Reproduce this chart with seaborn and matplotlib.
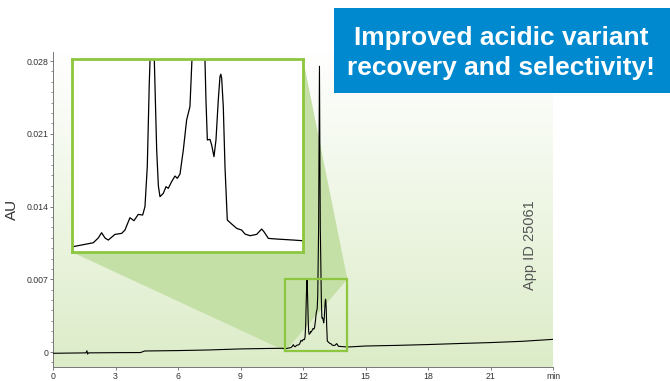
import matplotlib
matplotlib.use('Agg')
import matplotlib.pyplot as plt
import seaborn as sns
import numpy as np
import pandas as pd
from matplotlib.colors import LinearSegmentedColormap
from matplotlib.patches import Rectangle, Polygon
from matplotlib.ticker import FixedLocator, MultipleLocator

# retention time (min) and absorbance (AU)
rt_pre = [0.0, 0.8, 1.58, 1.63, 1.66, 1.70, 3.0, 4.2, 4.4, 6.0, 7.5, 9.0, 10.2, 11.0]
au_pre = [-0.00012, -0.0001, -0.00008, 0.00012, -0.0002, -0.00008, -0.00006,
          -0.00005, 0.0001, 0.00014, 0.0002, 0.0003, 0.00034, 0.00036]

rt_peaks = [11.159, 11.427, 11.49, 11.535, 11.58, 11.622, 11.708, 11.795, 11.838,
            11.903, 11.955, 12.011, 12.068, 12.098, 12.128, 12.154, 12.175, 12.19,
            12.205, 12.219, 12.250, 12.272, 12.293, 12.336, 12.371, 12.401, 12.444,
            12.488, 12.518, 12.553, 12.596, 12.639, 12.682, 12.695, 12.708,
            12.75, 12.79, 12.83, 12.877, 12.890, 12.908, 12.942, 12.964,
            12.994, 13.020, 13.050, 13.072, 13.083, 13.094, 13.115, 13.137, 13.167,
            13.224, 13.289, 13.353, 13.397, 13.462, 13.548, 13.613, 13.643,
            13.700, 13.808, 14.024, 14.146]
au_peaks = [0.000322, 0.000432, 0.000560, 0.000708, 0.000560, 0.000506, 0.000662, 0.000690,
            0.000782, 0.001122, 0.001040, 0.001214, 0.001196, 0.001426, 0.002530, 0.004830,
            0.0062, 0.0070, 0.0062, 0.0055, 0.002990, 0.002000, 0.001702, 0.001794,
            0.001978, 0.001932, 0.002116, 0.002272, 0.002208, 0.002326, 0.002990, 0.003818,
            0.004186, 0.004830, 0.005474, 0.012, 0.0275, 0.012, 0.005474, 0.004370,
            0.003266, 0.003284, 0.003128, 0.002806, 0.003266, 0.004370, 0.005014, 0.005080,
            0.004968, 0.004186, 0.002530, 0.001058, 0.000948, 0.000828, 0.000782, 0.000672,
            0.000626, 0.000662, 0.000810, 0.000736, 0.000552, 0.000534, 0.000506, 0.000488]

rt_post = [14.3, 15.0, 16.5, 18.0, 19.5, 21.0, 22.5, 24.0]
au_post = [0.0005, 0.00058, 0.00064, 0.00072, 0.00082, 0.00091, 0.00103, 0.00122]

x_ticks = [0, 3, 6, 9, 12, 15, 18, 21, 24]
x_ticklabels = ['0', '3', '6', '9', '12', '15', '18', '21', 'min']
y_ticks = [0, 0.007, 0.014, 0.021, 0.028]
y_ticklabels = ['0', '0.007', '0.014', '0.021', '0.028']

title_text = 'Improved acidic variant\nrecovery and selectivity!'
app_id = 'App ID 25061'


def make_plot():
    sns.set_style('ticks')
    plt.rcParams['font.family'] = ['Liberation Sans', 'DejaVu Sans']

    trace = pd.DataFrame({
        'rt': rt_pre + rt_peaks + rt_post,
        'au': au_pre + au_peaks + au_post,
    })
    zoom = pd.DataFrame({'rt': rt_peaks, 'au': au_peaks})

    fig = plt.figure(figsize=(6.7, 3.81), dpi=100)
    ax = fig.add_axes([53 / 670, 14 / 381, 500 / 670, 315 / 381])
    xlim = (0, 24)
    ylim = (-0.00144, 0.02887)
    ax.set_xlim(*xlim)
    ax.set_ylim(*ylim)

    # green gradient background, light at the top
    cmap = LinearSegmentedColormap.from_list('bg', ['#dcecc8', '#eef6e4', '#ffffff'])
    grad = np.linspace(0, 1, 256).reshape(-1, 1)
    ax.imshow(grad, extent=[xlim[0], xlim[1], ylim[0], ylim[1]], aspect='auto',
              cmap=cmap, zorder=0, origin='lower')

    # zoom window and connector
    box = (11.15, 0.0001, 14.13, 0.0070)
    inset_pos = (0.91, 0.00962, 12.0, 0.0282)
    ax.add_patch(Polygon([(inset_pos[0], inset_pos[1]), (box[0], box[1]),
                          (box[2], box[3]), (inset_pos[2], inset_pos[3])],
                         closed=True, facecolor='#c5e0a6',
                         edgecolor='none', zorder=1))

    sns.lineplot(data=trace, x='rt', y='au', ax=ax, color='black', linewidth=0.8,
                 estimator=None, sort=False, zorder=3)

    ax.add_patch(Rectangle((box[0], box[1]), box[2] - box[0], box[3] - box[1],
                           fill=False, edgecolor='#8dc63f', linewidth=1.6, zorder=4))

    ax.set_xticks(x_ticks)
    ax.set_xticklabels(x_ticklabels)
    ax.yaxis.set_major_locator(FixedLocator(y_ticks))
    ax.set_yticklabels(y_ticklabels)
    ax.yaxis.set_minor_locator(MultipleLocator(0.001))
    ax.tick_params(axis='both', which='major', labelsize=6.3, labelcolor='#333333',
                   color='#666666', length=2.5, width=0.6, pad=1)
    ax.tick_params(axis='both', which='minor', color='#666666', length=1.5, width=0.5)
    ax.set_xlabel('')
    ax.set_ylabel('AU', fontsize=11, color='#333333')
    ax.yaxis.set_label_coords(-0.068, 0.5)
    for side in ['top', 'right']:
        ax.spines[side].set_visible(False)
    for side in ['left', 'bottom']:
        ax.spines[side].set_color('#777777')
        ax.spines[side].set_linewidth(0.7)

    ax.text(22.9, 0.0103, app_id, rotation=90, ha='center', va='center',
            fontsize=10.5, color='#555555', zorder=5)

    # inset
    axin = ax.inset_axes([inset_pos[0], inset_pos[1], inset_pos[2] - inset_pos[0],
                          inset_pos[3] - inset_pos[1]], transform=ax.transData, zorder=6)
    axin.set_facecolor('white')
    sns.lineplot(data=zoom, x='rt', y='au', ax=axin, color='black', linewidth=0.9,
                 estimator=None, sort=False)
    axin.set_xlim(11.15, 14.15)
    axin.set_ylim(0.000175, 0.0055)
    axin.set_xticks([])
    axin.set_yticks([])
    axin.set_xlabel('')
    axin.set_ylabel('')
    for sp in axin.spines.values():
        sp.set_visible(True)
        sp.set_color('#8dc63f')
        sp.set_linewidth(2.0)

    # blue banner
    fig.add_artist(Rectangle((334 / 670, 1 - 93 / 381), 336 / 670, 85 / 381,
                             transform=fig.transFigure, facecolor='#0089cf',
                             edgecolor='none', zorder=10))
    fig.text(501 / 670, 1 - 53 / 381, title_text, ha='center', va='center',
             fontsize=19, fontweight='bold', color='white', linespacing=1.28, zorder=11)
    return fig


def save_plot_as(filename):
    fig = make_plot()
    fig.savefig(filename, dpi=100)
    plt.close()


if __name__ == '__main__':
    save_plot_as('out.png')
